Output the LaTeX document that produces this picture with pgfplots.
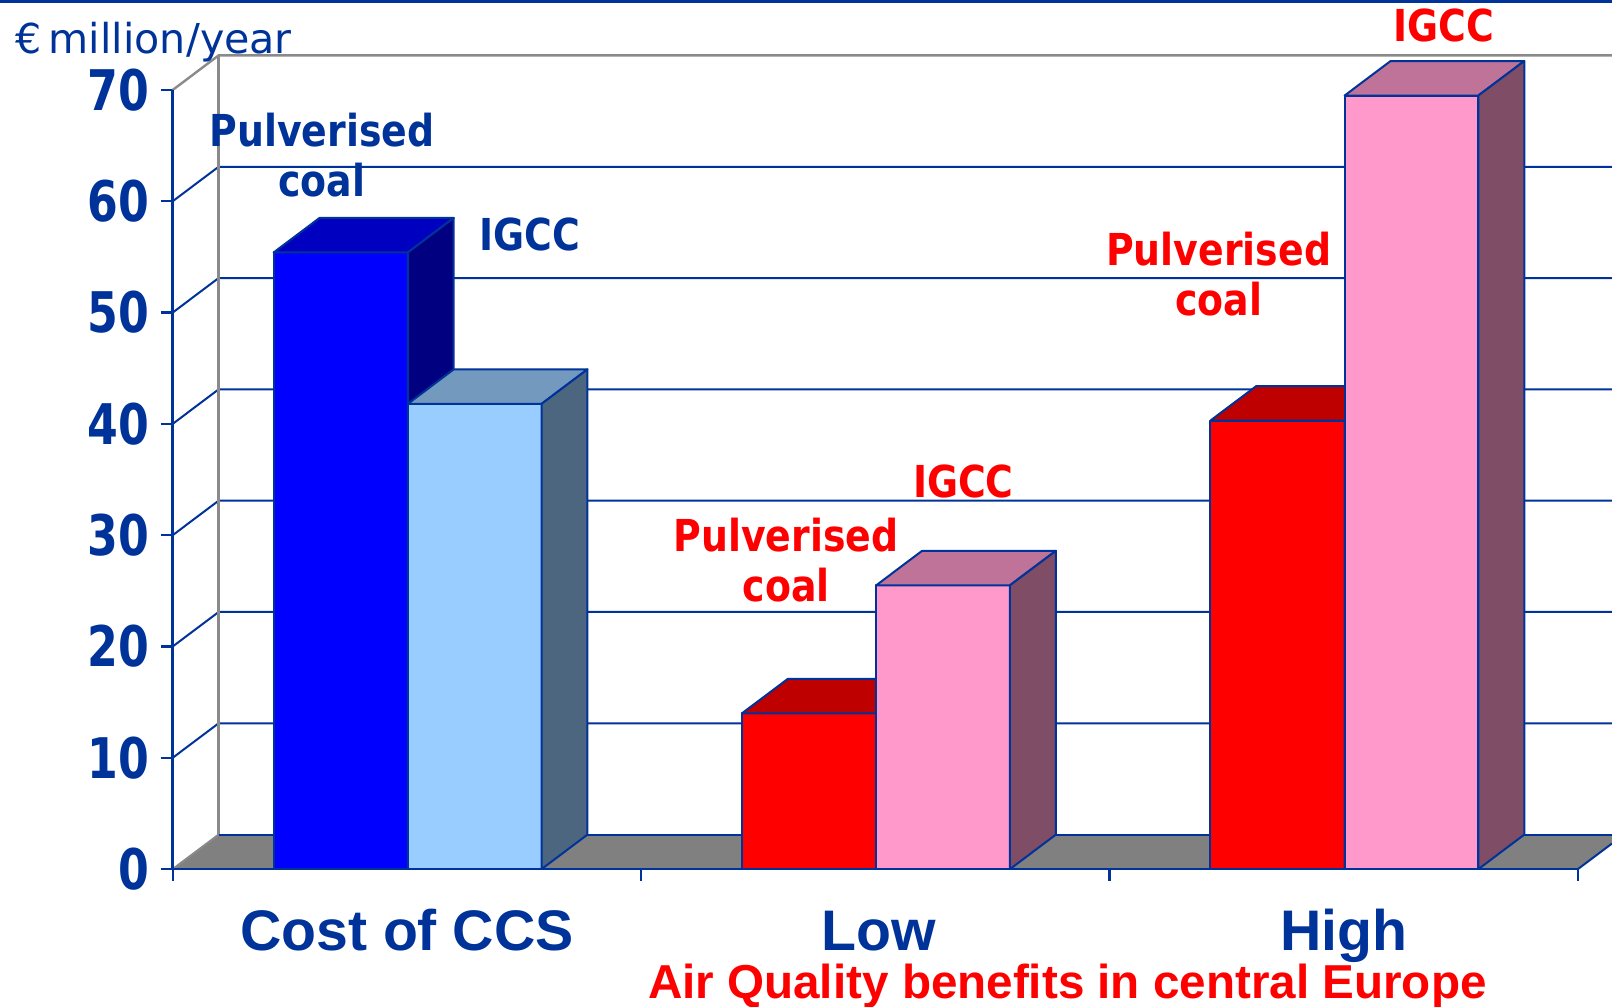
\documentclass[border=0pt]{standalone}
\usepackage{pgfplots}
\pgfplotsset{compat=1.18}
\usepackage{fontspec}
\setmainfont{Liberation Sans}
\newfontfamily\annfont[FakeStretch=0.86]{DejaVu Sans}
\newfontfamily\tickfnt[FakeStretch=0.79]{DejaVu Sans}
\newfontfamily\unitfnt{DejaVu Sans}
\definecolor{dblue}{HTML}{003399}
\definecolor{wallgrey}{HTML}{8A8A8A}
\definecolor{floorgrey}{HTML}{808080}
\definecolor{bA}{HTML}{0000FF}\definecolor{bAt}{HTML}{0000C0}\definecolor{bAs}{HTML}{000080}
\definecolor{bB}{HTML}{99CCFF}\definecolor{bBt}{HTML}{7399BF}\definecolor{bBs}{HTML}{4D6680}
\definecolor{rA}{HTML}{FF0000}\definecolor{rAt}{HTML}{BF0000}\definecolor{rAs}{HTML}{800000}
\definecolor{pB}{HTML}{FF99CC}\definecolor{pBt}{HTML}{BF7399}\definecolor{pBs}{HTML}{804D66}
\def\cdx{0.098}\def\cdy{3.1}
% #1 left x, #2 right x, #3 value, #4 front, #5 top, #6 side colour
\newcommand\cube[6]{%
  \pgfmathsetmacro\xa{#1}\pgfmathsetmacro\xb{#2}%
  \pgfmathsetmacro\xc{#1+\cdx}\pgfmathsetmacro\xd{#2+\cdx}%
  \pgfmathsetmacro\yt{#3+\cdy}%
  \edef\tmp{%
   \noexpand\addplot[bface,fill=#4] coordinates {(\xa,0) (\xb,0) (\xb,#3) (\xa,#3)} --cycle;
   \noexpand\addplot[bface,fill=#5] coordinates {(\xa,#3) (\xb,#3) (\xd,\yt) (\xc,\yt)} --cycle;
   \noexpand\addplot[bface,fill=#6] coordinates {(\xb,0) (\xd,\cdy) (\xd,\yt) (\xb,#3)} --cycle;
  }\tmp}
\tikzset{bface/.style={draw=dblue, line width=0.5pt, line join=round}}
\newcommand\ann[1]{\annfont\bfseries\fontsize{11}{13}\selectfont #1}
\begin{document}
\begin{tikzpicture}
\begin{axis}[
 scale only axis, width=359.8pt, height=217.25pt,
 xmin=0, xmax=3.0728, ymin=0, ymax=78.08,
 clip=false,
 axis x line*=bottom, axis y line*=left,
 axis line style={draw=none},
 xtick={0,1,2,3}, xticklabels={},
 ytick={0,10,...,70},
 tick align=outside, major tick length=3pt,
 tick style={dblue, line width=0.55pt},
 /pgf/number format/assume math mode=true,
 yticklabel style={font=\tickfnt\bfseries\fontsize{14}{14}\selectfont, text=dblue, inner sep=0pt, xshift=-2.6pt},
]
% back and side wall grid
\addplot[dblue, line width=0.5pt] coordinates {(0,10) (0.098,13.1) (3.0728,13.1)};
\addplot[dblue, line width=0.5pt] coordinates {(0,20) (0.098,23.1) (3.0728,23.1)};
\addplot[dblue, line width=0.5pt] coordinates {(0,30) (0.098,33.1) (3.0728,33.1)};
\addplot[dblue, line width=0.5pt] coordinates {(0,40) (0.098,43.1) (3.0728,43.1)};
\addplot[dblue, line width=0.5pt] coordinates {(0,50) (0.098,53.1) (3.0728,53.1)};
\addplot[dblue, line width=0.5pt] coordinates {(0,60) (0.098,63.1) (3.0728,63.1)};
\addplot[wallgrey, line width=0.6pt] coordinates {(0,70) (0.098,73.1) (3.0728,73.1)};
\addplot[wallgrey, line width=0.6pt] coordinates {(0.098,3.1) (0.098,73.1)};
% floor
\addplot[fill=floorgrey, draw=none] coordinates {(0,0) (3,0) (3.0728,2.303) (3.0728,3.1) (0.098,3.1)} --cycle;
\addplot[wallgrey, line width=0.5pt] coordinates {(0,0) (0.098,3.1)};
\addplot[dblue, line width=0.5pt] coordinates {(0.098,3.1) (3.0728,3.1)};
\addplot[dblue, line width=0.5pt] coordinates {(3,0) (3.0728,2.303)};
% bars
\cube{0.2155}{0.502}{55.4}{bA}{bAt}{bAs}
\cube{0.502}{0.7875}{41.8}{bB}{bBt}{bBs}
\cube{1.2155}{1.502}{14.0}{rA}{rAt}{rAs}
\cube{1.502}{1.7875}{25.5}{pB}{pBt}{pBs}
\cube{2.2155}{2.502}{40.3}{rA}{rAt}{rAs}
\cube{2.502}{2.7875}{69.5}{pB}{pBt}{pBs}
% front axes
\addplot[dblue, line width=0.6pt] coordinates {(0,70) (0,0) (3,0)};
% header rule
\draw[dblue, line width=0.8pt] (axis cs:-0.3687,77.93) -- (axis cs:3.0728,77.93);
% annotations
\node[dblue, anchor=base, inner sep=0pt] at (axis cs:0.3187,64.9) {\ann{Pulverised}};
\node[dblue, anchor=base, inner sep=0pt] at (axis cs:0.3187,60.4) {\ann{coal}};
\node[dblue, anchor=base, inner sep=0pt] at (axis cs:0.763,55.55) {\ann{IGCC}};
\node[red, anchor=base, inner sep=0pt] at (axis cs:1.3095,28.5) {\ann{Pulverised}};
\node[red, anchor=base, inner sep=0pt] at (axis cs:1.3095,24.0) {\ann{coal}};
\node[red, anchor=base, inner sep=0pt] at (axis cs:1.688,33.4) {\ann{IGCC}};
\node[red, anchor=base, inner sep=0pt] at (axis cs:2.233,54.2) {\ann{Pulverised}};
\node[red, anchor=base, inner sep=0pt] at (axis cs:2.233,49.7) {\ann{coal}};
\node[red, anchor=base, inner sep=0pt] at (axis cs:2.713,74.33) {\ann{IGCC}};
% unit label
\node[dblue, anchor=base west, inner sep=0pt] at (axis cs:-0.3367,73.29) {\unitfnt\fontsize{10.3}{12}\selectfont €\,million/year};
% category labels
\node[dblue, anchor=base, inner sep=0pt] at (axis cs:0.5,-7.34) {\bfseries\fontsize{14.3}{16}\selectfont Cost of CCS};
\node[dblue, anchor=base, inner sep=0pt] at (axis cs:1.507,-7.34) {\bfseries\fontsize{14.3}{16}\selectfont Low};
\node[dblue, anchor=base, inner sep=0pt] at (axis cs:2.5,-7.34) {\bfseries\fontsize{14.3}{16}\selectfont High};
\node[red, anchor=base, inner sep=0pt] at (axis cs:1.910,-11.62) {\bfseries\fontsize{11.9}{14}\selectfont Air Quality benefits in central Europe};
% page corners
\coordinate (bl) at (axis cs:-0.3687,-12.31);
\coordinate (tr) at (axis cs:3.0728,78.08);
\end{axis}
\pgfresetboundingbox
\path (bl) rectangle (tr);
\end{tikzpicture}
\end{document}
